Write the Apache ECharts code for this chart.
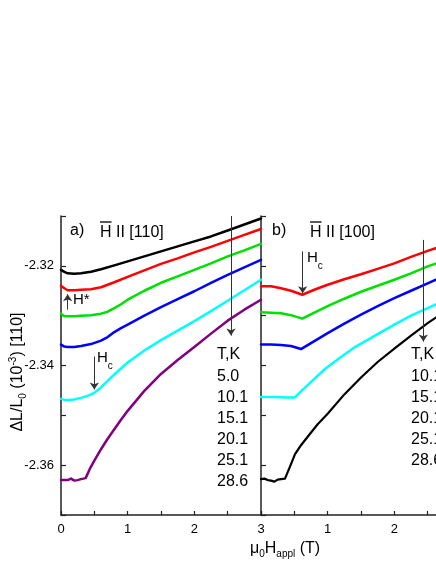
<!DOCTYPE html>
<html>
<head>
<meta charset="utf-8" />
<title>magnetostriction</title>
<script src="https://cdn.jsdelivr.net/npm/echarts@6/dist/echarts.min.js"></script>
<style>
  html, body { margin: 0; padding: 0; background: #fff; }
  #main { width: 436px; height: 564px; }
</style>
</head>
<body>
<div id="main"></div>
<script>
// panel a) H || [110], field in T, dL/L in 1e-3
var a_5K = [[0,-2.3208],[0.05,-2.3212],[0.1,-2.3215],[0.2,-2.3216],[0.3,-2.3215],[0.45,-2.3212],[0.6,-2.3207],[0.8,-2.3199],[1.0,-2.3191],[1.25,-2.3181],[1.5,-2.3171],[1.75,-2.3161],[2.0,-2.3151],[2.25,-2.3141],[2.5,-2.3129],[2.75,-2.3117],[3.0,-2.3105]];
var a_10K = [[0,-2.324],[0.05,-2.3245],[0.1,-2.3249],[0.2,-2.3249],[0.3,-2.3248],[0.45,-2.3247],[0.6,-2.3243],[0.8,-2.3233],[1.0,-2.3222],[1.25,-2.3209],[1.5,-2.3196],[1.75,-2.3185],[2.0,-2.3173],[2.25,-2.3162],[2.5,-2.315],[2.75,-2.3138],[3.0,-2.3126]];
var a_15K = [[0,-2.3296],[0.05,-2.3301],[0.1,-2.3301],[0.2,-2.3301],[0.3,-2.33],[0.45,-2.3299],[0.6,-2.3296],[0.7,-2.3292],[0.8,-2.3285],[0.9,-2.3277],[1.0,-2.3268],[1.25,-2.325],[1.5,-2.3234],[1.75,-2.3221],[2.0,-2.3208],[2.25,-2.3195],[2.5,-2.3181],[2.75,-2.3169],[3.0,-2.3156]];
var a_20K = [[0,-2.3358],[0.05,-2.3362],[0.1,-2.3363],[0.2,-2.3363],[0.3,-2.3361],[0.45,-2.3357],[0.6,-2.335],[0.7,-2.3343],[0.8,-2.3333],[0.9,-2.3325],[1.0,-2.3318],[1.25,-2.33],[1.5,-2.3283],[1.75,-2.3267],[2.0,-2.3251],[2.25,-2.3234],[2.5,-2.3218],[2.75,-2.3203],[3.0,-2.3188]];
var a_25K = [[0,-2.3467],[0.05,-2.3469],[0.1,-2.3469],[0.2,-2.3468],[0.3,-2.3465],[0.4,-2.3461],[0.5,-2.3455],[0.6,-2.3444],[0.7,-2.3431],[0.8,-2.3418],[0.9,-2.3406],[1.0,-2.3394],[1.25,-2.337],[1.5,-2.3349],[1.75,-2.333],[2.0,-2.3311],[2.25,-2.3291],[2.5,-2.327],[2.75,-2.3249],[3.0,-2.3228]];
var a_28K = [[0,-2.363],[0.1,-2.363],[0.15,-2.3627],[0.2,-2.3631],[0.25,-2.363],[0.3,-2.3628],[0.37,-2.3626],[0.43,-2.3608],[0.5,-2.3591],[0.6,-2.3568],[0.7,-2.3547],[0.8,-2.3528],[0.9,-2.3509],[1.0,-2.3491],[1.25,-2.3451],[1.5,-2.3417],[1.75,-2.3389],[2.0,-2.3363],[2.25,-2.3336],[2.5,-2.331],[2.75,-2.3288],[3.0,-2.3268]];

// panel b) H || [100]
var b_10K = [[0,-2.3241],[0.15,-2.3241],[0.3,-2.3245],[0.45,-2.325],[0.62,-2.3258],[0.8,-2.3248],[1.0,-2.3238],[1.25,-2.3227],[1.5,-2.3217],[1.75,-2.3206],[2.0,-2.3195],[2.25,-2.3182],[2.5,-2.317],[2.7,-2.3161]];
var b_15K = [[0,-2.3293],[0.15,-2.3294],[0.3,-2.3295],[0.45,-2.3299],[0.62,-2.3306],[0.8,-2.3294],[1.0,-2.3281],[1.25,-2.3266],[1.5,-2.3252],[1.75,-2.324],[2.0,-2.3228],[2.25,-2.3215],[2.5,-2.3201],[2.7,-2.3192]];
var b_20K = [[0,-2.3358],[0.15,-2.3358],[0.3,-2.3359],[0.45,-2.3361],[0.6,-2.3367],[0.8,-2.3351],[1.0,-2.3335],[1.25,-2.3316],[1.5,-2.3298],[1.75,-2.3281],[2.0,-2.3265],[2.25,-2.325],[2.5,-2.3235],[2.7,-2.3223]];
var b_25K = [[0,-2.3463],[0.2,-2.3463],[0.4,-2.3464],[0.51,-2.3464],[0.6,-2.3452],[0.76,-2.3432],[0.96,-2.3407],[1.18,-2.3385],[1.41,-2.3363],[1.75,-2.3337],[2.0,-2.3318],[2.25,-2.33],[2.5,-2.3285],[2.7,-2.3273]];
var b_28K = [[0,-2.3628],[0.05,-2.3627],[0.1,-2.363],[0.15,-2.3631],[0.2,-2.3633],[0.25,-2.3629],[0.3,-2.3628],[0.36,-2.3627],[0.45,-2.3598],[0.51,-2.3578],[0.6,-2.356],[0.73,-2.3538],[0.85,-2.3518],[1.0,-2.3497],[1.25,-2.3458],[1.5,-2.3424],[1.75,-2.3393],[2.0,-2.3366],[2.25,-2.334],[2.5,-2.3315],[2.7,-2.3297]];

var tempsA = ['5.0', '10.1', '15.1', '20.1', '25.1', '28.6'];
var tempsB = ['10.1', '15.1', '20.1', '25.1', '28.6'];

// arrows, in data units
var arrowTempA = [[2.55, -2.31], [2.55, -2.334]];
var arrowHstar = [[0.1, -2.3288], [0.1, -2.3257]];
var arrowHcA = [[0.5, -2.3382], [0.5, -2.3448]];
var arrowTempB = [[2.435, -2.3148], [2.435, -2.3352]];
var arrowHcB = [[0.625, -2.3171], [0.625, -2.3255]];

var FONT = '"Liberation Sans", Arial, sans-serif';
var AXIS = '#222';

var measureCtx = document.createElement('canvas').getContext('2d');
function textW(s, size) {
  measureCtx.font = size + 'px ' + FONT;
  return measureCtx.measureText(s).width;
}

function txt(x, y, s, size, align) {
  return {
    type: 'text', x: x, y: y, silent: true,
    style: {
      text: s, font: size + 'px ' + FONT, fontSize: size, fontFamily: FONT, fill: '#000',
      align: align || 'left', textAlign: align || 'left',
      verticalAlign: 'middle', textVerticalAlign: 'middle'
    }
  };
}

// pieces: [text, size, dy]
function pieces(list, x0, y0) {
  var out = [];
  var x = x0;
  list.forEach(function (p) {
    out.push(txt(x, y0 + p[2], p[0], p[1]));
    x += textW(p[0], p[1]);
  });
  return out;
}
function piecesWidth(list) {
  var w = 0;
  list.forEach(function (p) { w += textW(p[0], p[1]); });
  return w;
}

var yName = [['\u0394L/L', 16, 0], ['0', 10, 5], [' (10', 16, 0], ['-3', 10, -5], [') [110]', 16, 0]];
var xName = [['\u03bc', 16, 0], ['0', 10, 5], ['H', 16, 0], ['appl', 10, 5], [' (T)', 16, 0]];

var myChart = echarts.init(document.getElementById('main'), null, { renderer: 'canvas' });

function arrowLine(pairs) {
  return {
    silent: true, symbol: ['none', 'arrow'], symbolSize: 7,
    label: { show: false },
    lineStyle: { color: '#333', width: 1, type: 'solid' },
    emphasis: { disabled: true },
    data: pairs.map(function (pr) {
      return [{ coord: pr[0] }, { coord: pr[1] }];
    })
  };
}

function lineSeries(name, data, color, idx, width) {
  return {
    name: name, type: 'line', data: data, xAxisIndex: idx, yAxisIndex: idx,
    showSymbol: false, symbol: 'none', smooth: false,
    lineStyle: { color: color, width: width || 2.5, join: 'round', cap: 'round' },
    itemStyle: { color: color },
    emphasis: { disabled: true }
  };
}

function xAx(idx, hideZero) {
  return {
    type: 'value', gridIndex: idx, min: 0, max: 3, interval: 0.5,
    axisLine: { show: true, onZero: false, lineStyle: { color: AXIS, width: 1.5 } },
    axisTick: { show: true, inside: true, length: 4, lineStyle: { color: AXIS, width: 1.2 } },
    splitLine: { show: false },
    axisLabel: {
      color: '#000', fontSize: 13, fontFamily: FONT, margin: 8,
      showMinLabel: true, showMaxLabel: true,
      formatter: function (v) {
        if (Math.abs(v - Math.round(v)) > 1e-6) return '';
        if (hideZero && Math.round(v) === 0) return '';
        return String(Math.round(v));
      }
    }
  };
}

function yAx(idx, labels) {
  return {
    type: 'value', gridIndex: idx, min: -2.37, max: -2.31, interval: 0.01,
    axisLine: { show: true, onZero: false, lineStyle: { color: AXIS, width: 1.5 } },
    axisTick: { show: true, inside: true, length: 5, lineStyle: { color: AXIS, width: 1.2 } },
    splitLine: { show: false },
    axisLabel: {
      show: labels, color: '#000', fontSize: 13, fontFamily: FONT, margin: 7,
      formatter: function (v) {
        var k = Math.round(v * 100);
        return (k % 2 === 0) ? v.toFixed(2) : '';
      }
    }
  };
}

var sA = [a_5K, a_10K, a_15K, a_20K, a_25K, a_28K];
var cA = ['#000000', '#ff0000', '#00e000', '#0000ff', '#00ffff', '#800080'];
var sB = [b_10K, b_15K, b_20K, b_25K, b_28K];
var cB = ['#ff0000', '#00e000', '#0000ff', '#00ffff', '#000000'];

var series = [];
sA.forEach(function (d, i) { series.push(lineSeries('a ' + tempsA[i], d, cA[i], 0)); });
sB.forEach(function (d, i) { series.push(lineSeries('b ' + tempsB[i], d, cB[i], 1, i === 4 ? 2.2 : 2.5)); });
series[0].markLine = arrowLine([arrowTempA, arrowHstar]);
series[4].markLine = arrowLine([arrowHcA]);
series[6].markLine = arrowLine([arrowTempB, arrowHcB]);

// annotations
var graphics = [];
graphics.push(txt(70, 231, 'a)', 16));
graphics.push(txt(100, 233, 'H II [110]', 16));
graphics.push({ type: 'line', silent: true, shape: { x1: 100, y1: 222, x2: 100 + textW('H', 16), y2: 222 }, style: { stroke: '#000', lineWidth: 1.3 } });
graphics.push(txt(272, 231, 'b)', 16));
graphics.push(txt(310, 233, 'H II [100]', 16));
graphics.push({ type: 'line', silent: true, shape: { x1: 310, y1: 222, x2: 310 + textW('H', 16), y2: 222 }, style: { stroke: '#000', lineWidth: 1.3 } });
graphics.push(txt(73, 300, 'H*', 15));
graphics = graphics.concat(pieces([['H', 15, 0], ['c', 10, 8]], 97, 358));
graphics = graphics.concat(pieces([['H', 15, 0], ['c', 10, 8]], 307, 258));

graphics.push(txt(217, 355, 'T,K', 16));
tempsA.forEach(function (t, i) { graphics.push(txt(217, 377 + i * 21, t, 16)); });
graphics.push(txt(411, 355, 'T,K', 16));
tempsB.forEach(function (t, i) { graphics.push(txt(411, 377 + i * 21, t, 16)); });

// axis names
var yw = piecesWidth(yName);
graphics.push({
  type: 'group', x: 18, y: 372, rotation: Math.PI / 2, silent: true,
  children: pieces(yName, -yw / 2, 0)
});
graphics = graphics.concat(pieces(xName, 250, 549));

var option = {
  animation: false,
  backgroundColor: '#ffffff',
  grid: [
    { left: 61, top: 216, width: 200, height: 299, outerBoundsMode: 'none', containLabel: false },
    { left: 261, top: 216, width: 200, height: 299, outerBoundsMode: 'none', containLabel: false }
  ],
  xAxis: [xAx(0, false), xAx(1, true)],
  yAxis: [yAx(0, true), yAx(1, false)],
  series: series,
  graphic: { elements: graphics }
};
myChart.setOption(option);
</script>
</body>
</html>
